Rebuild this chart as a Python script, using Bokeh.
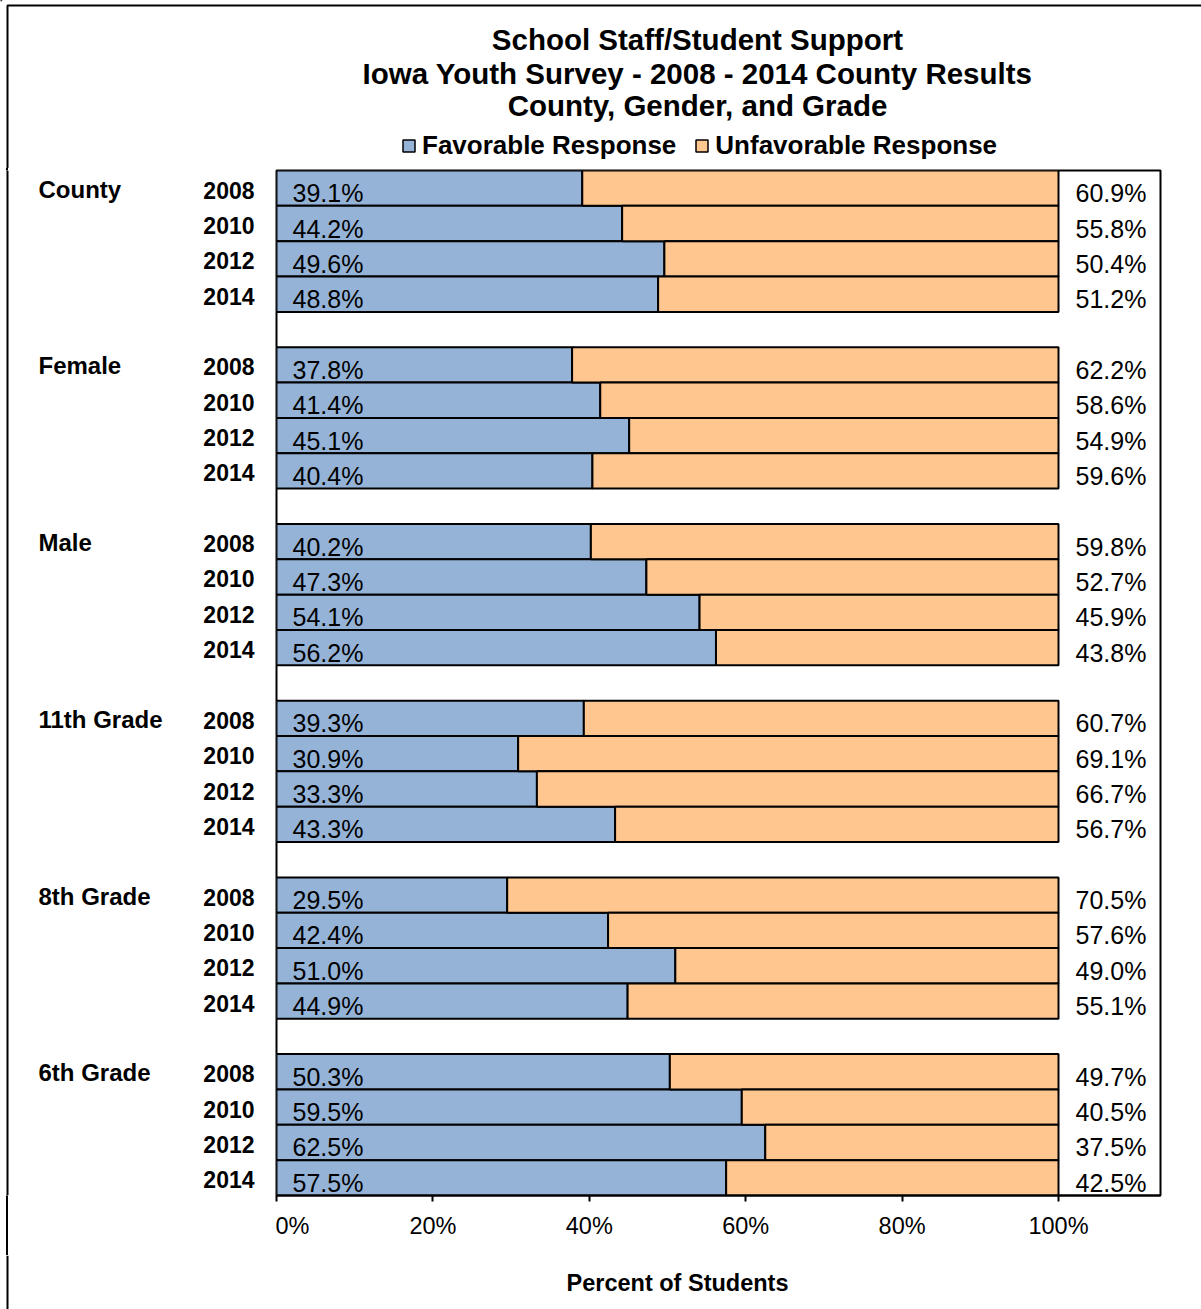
from bokeh.plotting import figure
from bokeh.models import (ColumnDataSource, Range1d, FixedTicker, Legend, LegendItem,
                          Span, BoxAnnotation)
from bokeh.layouts import column, row
from bokeh.core.properties import value
from bokeh.embed import file_html
from bokeh.resources import INLINE

# ---------------- data ----------------
groups = ["County", "Female", "Male", "11th Grade", "8th Grade", "6th Grade"]
years = ["2008", "2010", "2012", "2014"]
favorable = [39.1, 44.2, 49.6, 48.8,
             37.8, 41.4, 45.1, 40.4,
             40.2, 47.3, 54.1, 56.2,
             39.3, 30.9, 33.3, 43.3,
             29.5, 42.4, 51.0, 44.9,
             50.3, 59.5, 62.5, 57.5]
unfavorable = [60.9, 55.8, 50.4, 51.2,
               62.2, 58.6, 54.9, 59.6,
               59.8, 52.7, 45.9, 43.8,
               60.7, 69.1, 66.7, 56.7,
               70.5, 57.6, 49.0, 55.1,
               49.7, 40.5, 37.5, 42.5]
series_names = ["Favorable Response", "Unfavorable Response"]
x_ticks = [0, 20, 40, 60, 80, 100]
x_tick_labels = ["0%", "20%", "40%", "60%", "80%", "100%"]
title_lines = ["School Staff/Student Support",
               "Iowa Youth Survey - 2008 - 2014 County Results",
               "County, Gender, and Grade"]
x_axis_title = "Percent of Students"

# ---------------- style / layout ----------------
FONT = "Liberation Sans"
C_FAV = "#95B3D7"
C_UNF = "#FFC68F"
TOTAL_W, TOTAL_H = 1201, 1309
TOP_H = 168
LEFT_W = 275
FRAME_W, FRAME_H = 884, 1025
MAIN_TOP, MAIN_BOTTOM, MAIN_RIGHT = 2, 60, 41
MAIN_W = TOTAL_W - LEFT_W
MAIN_H = MAIN_TOP + FRAME_H + MAIN_BOTTOM
BOT_H = TOTAL_H - TOP_H - MAIN_H
PX_PER_PCT = 7.82
N_SLOTS = len(groups) * (len(years) + 1) - 1
TITLE_CENTERS = [39, 73, 105]
AXIS_TITLE_CENTER = 1282
BORDER_X = 7


def helper_fig(w, h, y_range=None, top=0, bottom=0):
    f = figure(width=w, height=h, output_backend="svg", toolbar_location=None,
               x_range=Range1d(0, w), y_range=y_range or Range1d(h, 0),
               x_axis_location=None, y_axis_location=None,
               min_border=0, min_border_left=0, min_border_right=0,
               min_border_top=top, min_border_bottom=bottom)
    f.outline_line_color = None
    f.background_fill_color = "white"
    f.border_fill_color = "white"
    f.grid.visible = False
    return f


# rows
ys, lefts_unf, rights_unf, fav_txt, unf_txt, year_lab = [], [], [], [], [], []
grp_y = []
for gi, g in enumerate(groups):
    for yi, yr in enumerate(years):
        k = gi * len(years) + yi
        yv = gi * (len(years) + 1) + yi + 0.5
        ys.append(yv)
        lefts_unf.append(favorable[k])
        rights_unf.append(favorable[k] + unfavorable[k])
        fav_txt.append(f"{favorable[k]:.1f}%")
        unf_txt.append(f"{unfavorable[k]:.1f}%")
        year_lab.append(yr)
        if yi == 0:
            grp_y.append(yv)

src = ColumnDataSource(dict(y=ys, zero=[0] * len(ys), fav=favorable,
                            ul=lefts_unf, ur=rights_unf, ft=fav_txt, ut=unf_txt,
                            hundred=[100] * len(ys), yr=year_lab))

y_range = Range1d(N_SLOTS, 0)

# ---------------- main figure ----------------
p = figure(width=MAIN_W, height=MAIN_H, output_backend="svg", toolbar_location=None,
           x_range=Range1d(0, FRAME_W / PX_PER_PCT), y_range=y_range,
           y_axis_location=None,
           min_border_left=1, min_border_top=MAIN_TOP,
           min_border_right=MAIN_RIGHT, min_border_bottom=MAIN_BOTTOM)
p.background_fill_color = "white"
p.border_fill_color = "white"
p.outline_line_color = "black"
p.outline_line_width = 2
p.grid.visible = False

r_fav = p.hbar(y="y", left="zero", right="fav", height=1.0, source=src,
               fill_color=C_FAV, line_color="black", line_width=2)
r_unf = p.hbar(y="y", left="ul", right="ur", height=1.0, source=src,
               fill_color=C_UNF, line_color="black", line_width=2)

p.text(x="zero", y="y", text="ft", source=src, x_offset=16, y_offset=5,
       text_baseline="middle", text_align="left", text_font=value(FONT),
       text_font_size="25px", text_color="black")
p.text(x="hundred", y="y", text="ut", source=src, x_offset=17, y_offset=5,
       text_baseline="middle", text_align="left", text_font=value(FONT),
       text_font_size="25px", text_color="black")

xa = p.xaxis[0]
xa.ticker = FixedTicker(ticks=x_ticks)
xa.major_label_overrides = {t: l for t, l in zip(x_ticks, x_tick_labels)}
xa.minor_tick_line_color = None
xa.major_tick_in = 0
xa.major_tick_out = 6
xa.major_tick_line_color = "black"
xa.major_tick_line_width = 2
xa.axis_line_color = "black"
xa.axis_line_width = 2
xa.major_label_standoff = 11
xa.major_label_text_font = FONT
xa.major_label_text_font_size = "23.5px"
xa.major_label_text_color = "black"

# ---------------- left labels figure (frame aligned with main, shares y range) ----
lf = helper_fig(LEFT_W, MAIN_H, y_range=y_range, top=MAIN_TOP, bottom=MAIN_BOTTOM)
lf.border_fill_color = None
lf.text(x=254, y="y", text="yr", source=src, text_align="right",
        text_baseline="middle", y_offset=2, text_font=value(FONT),
        text_font_style="bold", text_font_size="23px", text_color="black")
lf.text(x=38, y=grp_y, text=groups, text_align="left", y_offset=1,
        text_baseline="middle", text_font=value(FONT), text_font_style="bold",
        text_font_size="24px", text_color="black")
lf.add_layout(Span(location=BORDER_X, dimension="height", line_color="black",
                   line_width=2, line_alpha=1))

# ---------------- top figure: titles + legend ----------------
tf = helper_fig(TOTAL_W, TOP_H)
tf.text(x=697, y=TITLE_CENTERS, text=title_lines,
        text_align="center", text_baseline="middle", text_font=value(FONT),
        text_font_style="bold", text_font_size="29.5px", text_color="black")
d_fav = tf.hbar(y=[-1000], left=[0], right=[1], height=1, fill_color=C_FAV,
                line_color="black", line_width=1.5)
d_unf = tf.hbar(y=[-1000], left=[0], right=[1], height=1, fill_color=C_UNF,
                line_color="black", line_width=1.5)
legend = Legend(items=[LegendItem(label=series_names[0], renderers=[d_fav]),
                       LegendItem(label=series_names[1], renderers=[d_unf])],
                location=(401, 7), orientation="horizontal",
                border_line_color=None, background_fill_alpha=0,
                padding=0, margin=0, spacing=18, label_standoff=6,
                glyph_width=15, glyph_height=15,
                label_text_font=FONT, label_text_font_style="bold",
                label_text_font_size="26px", label_text_color="black")
tf.add_layout(legend)
tf.add_layout(BoxAnnotation(left=BORDER_X, right=5000, top=5, bottom=5000,
                            fill_alpha=0, line_color="black", line_alpha=1,
                            line_width=2))

# ---------------- bottom figure: axis title ----------------
bf = helper_fig(TOTAL_W, BOT_H)
bf.text(x=677, y=[AXIS_TITLE_CENTER - TOP_H - MAIN_H], text=[x_axis_title],
        text_align="center", text_baseline="middle", text_font=value(FONT),
        text_font_style="bold", text_font_size="23.5px", text_color="black")
bf.add_layout(Span(location=BORDER_X, dimension="height", line_color="black",
                   line_width=2, line_alpha=1))

mid = row(lf, p, spacing=0,
          styles={"background": "linear-gradient(90deg, #ffffff 6px, #000000 6px, "
                                "#000000 8px, #ffffff 8px)"})
layout = column(tf, mid, bf, spacing=0)
open("out.html", "w").write(file_html(layout, INLINE))
